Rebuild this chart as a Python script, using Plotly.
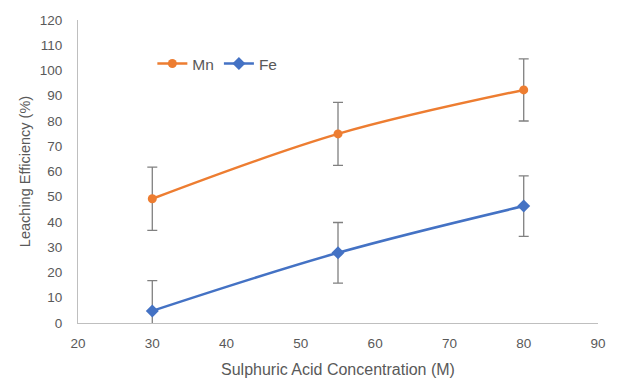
import plotly.graph_objects as go

conc = [30, 55, 80]
mn_values = [49.2, 74.9, 92.3]
mn_err = [12.5, 12.5, 12.3]
fe_values = [4.8, 27.8, 46.3]
fe_err = [12.0, 12.0, 12.0]

grey = "#595959"
fig = go.Figure()
fig.add_trace(go.Scatter(
    x=conc, y=mn_values, name="Mn", mode="lines+markers",
    line=dict(color="#ED7D31", width=2.5, shape="spline"),
    marker=dict(symbol="circle", size=9, color="#ED7D31"),
    error_y=dict(type="data", array=mn_err, color="#808080", thickness=1.3, width=5),
))
fig.add_trace(go.Scatter(
    x=conc, y=fe_values, name="Fe", mode="lines+markers",
    line=dict(color="#4472C4", width=2.5, shape="spline"),
    marker=dict(symbol="diamond", size=10, color="#4472C4"),
    error_y=dict(type="data", array=fe_err, color="#808080", thickness=1.3, width=5),
))

fig.update_layout(
    width=617, height=378,
    margin=dict(l=78, r=19, t=20, b=55),
    paper_bgcolor="white", plot_bgcolor="white",
    font=dict(family="Liberation Sans, Arial, sans-serif", size=13.5, color=grey),
    legend=dict(orientation="h", x=0.143, y=0.855, xanchor="left", yanchor="middle",
                bgcolor="rgba(0,0,0,0)", font=dict(size=15.5, color=grey),
                itemwidth=30, tracegroupgap=0),
    xaxis=dict(range=[20, 90], dtick=10, tick0=20, showgrid=False, zeroline=False,
               showline=True, linecolor="#BFBFBF", linewidth=1, ticks="",
               automargin=False, ticklabelstandoff=8,
               title=dict(text="Sulphuric Acid Concentration (M)", font=dict(size=16, color=grey), standoff=13)),
    yaxis=dict(range=[0, 120], dtick=10, showgrid=False, zeroline=False,
               showline=True, linecolor="#BFBFBF", linewidth=1, ticks="",
               automargin=False, ticklabelstandoff=12,
               title=dict(text="Leaching Efficiency (%)", font=dict(size=14.5, color=grey), standoff=5)),
)

fig.write_html("out.html", config={"displayModeBar": False},
               post_script="document.body.style.margin='0';document.body.style.overflow='hidden';")
